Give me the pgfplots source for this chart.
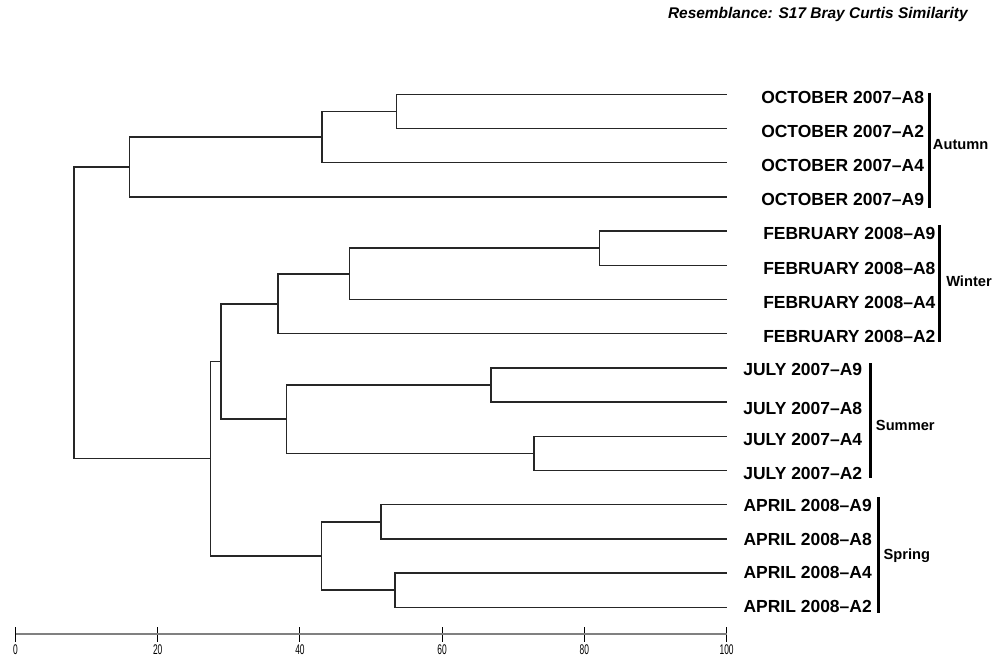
\documentclass[border=0pt]{standalone}
\usepackage{fontspec}
\setmainfont{Liberation Sans}
\newfontfamily\narrowfont[FakeStretch=0.6]{Liberation Sans}
\usepackage{pgfplots}
\pgfplotsset{compat=1.18}

\newcommand{\leaf}[3]{\node[anchor=east,font=\fontsize{13.1}{15}\selectfont\bfseries,inner sep=0pt] at (axis cs:#1,#2) {#3};}

\begin{document}
\begin{tikzpicture}[dlink/.style={black!85, line width=1.1pt, mark=none}]
\begin{axis}[
    x=5.333pt, y=25.65pt,
    xmin=0, xmax=100,
    ymin=0.219, ymax=16.5,
    axis x line*=bottom,
    hide y axis,
    axis line style={draw=black!50, line width=1.4pt},
    xtick={0,20,...,100},
    tick align=center,
    major tick length=11.25pt,
    tick style={black, line width=0.8pt},
    xticklabel style={font=\narrowfont\fontsize{10.5}{11}\selectfont, yshift=1.5pt},
    /pgf/number format/assume math mode=true,
    clip=false,
]
% October cluster
\addplot[dlink] coordinates {(100,16) (53.6,16) (53.6,15) (100,15)};
\addplot[dlink] coordinates {(53.6,15.5) (43.1,15.5) (43.1,14) (100,14)};
\addplot[dlink] coordinates {(43.1,14.75) (16.0,14.75) (16.0,13) (100,13)};
% February cluster
\addplot[dlink] coordinates {(100,12) (82.1,12) (82.1,11) (100,11)};
\addplot[dlink] coordinates {(82.1,11.5) (47.0,11.5) (47.0,10) (100,10)};
\addplot[dlink] coordinates {(47.0,10.75) (36.9,10.75) (36.9,9) (100,9)};
% July cluster
\addplot[dlink] coordinates {(100,8) (66.9,8) (66.9,7) (100,7)};
\addplot[dlink] coordinates {(100,6) (72.9,6) (72.9,5) (100,5)};
\addplot[dlink] coordinates {(66.9,7.5) (38.1,7.5) (38.1,5.5) (72.9,5.5)};
\addplot[dlink] coordinates {(36.9,9.875) (28.9,9.875) (28.9,6.5) (38.1,6.5)};
% April cluster
\addplot[dlink] coordinates {(100,4) (51.4,4) (51.4,3) (100,3)};
\addplot[dlink] coordinates {(100,2) (53.4,2) (53.4,1) (100,1)};
\addplot[dlink] coordinates {(51.4,3.5) (43.0,3.5) (43.0,1.5) (53.4,1.5)};
\addplot[dlink] coordinates {(28.9,8.1875) (27.4,8.1875) (27.4,2.5) (43.0,2.5)};
% root
\addplot[dlink] coordinates {(16.0,13.875) (8.2,13.875) (8.2,5.34375) (27.4,5.34375)};

% leaf labels
\leaf{127.8}{15.92}{OCTOBER 2007--A8}
\leaf{127.8}{14.92}{OCTOBER 2007--A2}
\leaf{127.8}{13.92}{OCTOBER 2007--A4}
\leaf{127.8}{12.92}{OCTOBER 2007--A9}
\leaf{129.4}{11.92}{FEBRUARY 2008--A9}
\leaf{129.4}{10.92}{FEBRUARY 2008--A8}
\leaf{129.4}{9.92}{FEBRUARY 2008--A4}
\leaf{129.4}{8.92}{FEBRUARY 2008--A2}
\leaf{119.1}{7.96}{JULY 2007--A9}
\leaf{119.1}{6.82}{JULY 2007--A8}
\leaf{119.1}{5.92}{JULY 2007--A4}
\leaf{119.1}{4.92}{JULY 2007--A2}
\leaf{120.45}{3.98}{APRIL 2008--A9}
\leaf{120.45}{2.98}{APRIL 2008--A8}
\leaf{120.45}{2.02}{APRIL 2008--A4}
\leaf{120.45}{1.02}{APRIL 2008--A2}

% season brackets
\draw[black, line width=2.2pt] (axis cs:128.56,16.05) -- (axis cs:128.56,12.67);
\draw[black, line width=2.2pt] (axis cs:129.92,12.18) -- (axis cs:129.92,8.77);
\draw[black, line width=2.2pt] (axis cs:120.17,8.13) -- (axis cs:120.17,4.78);
\draw[black, line width=2.2pt] (axis cs:121.33,4.22) -- (axis cs:121.33,0.82);
\node[anchor=west, inner sep=0pt, font=\fontsize{11}{13}\selectfont\bfseries] at (axis cs:128.98,14.52) {Autumn};
\node[anchor=west, inner sep=0pt, font=\fontsize{11}{13}\selectfont\bfseries] at (axis cs:130.85,10.52) {Winter};
\node[anchor=west, inner sep=0pt, font=\fontsize{11}{13}\selectfont\bfseries] at (axis cs:120.97,6.33) {Summer};
\node[anchor=west, inner sep=0pt, font=\fontsize{11}{13}\selectfont\bfseries] at (axis cs:122.04,2.5) {Spring};

% title
\node[anchor=east, inner sep=0pt, font=\fontsize{11.6}{14}\selectfont\bfseries\itshape] at (axis cs:133.95,18.32) {Resemblance: S17 Bray Curtis Similarity};

\coordinate (tl) at (axis cs:-2.18,18.757);
\coordinate (br) at (axis cs:139.15,-0.512);
\end{axis}
\pgfresetboundingbox
\path[use as bounding box] (tl) rectangle (br);
\end{tikzpicture}
\end{document}
